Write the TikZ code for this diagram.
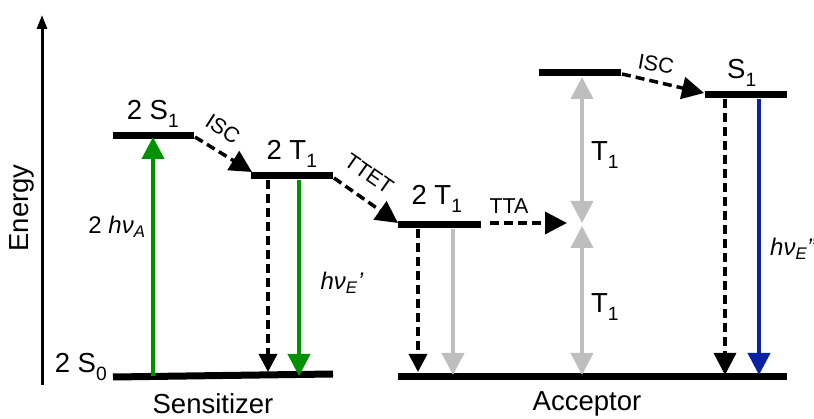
\documentclass[tikz,border=0pt]{standalone}
\usepackage{fontspec}
\setmainfont{Liberation Sans}
\usetikzlibrary{arrows.meta}
\definecolor{pgreen}{RGB}{0,145,0}
\definecolor{pblue}{RGB}{10,35,165}
\definecolor{pgray}{RGB}{190,190,190}
\newcommand{\hnu}{\textit{hν}}
\newcommand{\lsub}[1]{\raisebox{-0.1em}{\textsubscript{#1}}}
\begin{document}
\begin{tikzpicture}[x=1pt,y=-1pt,
  level/.style={line width=7pt},
  lab/.style={font=\fontsize{27.5}{30}\selectfont, inner sep=0pt},
  smalllab/.style={font=\fontsize{21.5}{24}\selectfont, inner sep=0pt},
  nulab/.style={font=\fontsize{24}{27}\selectfont, inner sep=0pt},
  solidarr/.style={line width=4pt,-{Triangle[width=22pt,length=22pt]}},
  grayarr/.style={pgray,line width=4pt,-{Triangle[width=22pt,length=22pt]}},
  graydbl/.style={pgray,line width=4pt,{Triangle[width=22pt,length=22pt]}-{Triangle[width=22pt,length=22pt]}},
  dasharr/.style={line width=3.5pt,dash pattern=on 9pt off 5pt,-{Triangle[width=18pt,length=18pt]}},
  dashdiag/.style={line width=3.5pt,dash pattern=on 9pt off 5pt,-{Triangle[width=22pt,length=22pt]}},
  axis/.style={line width=3pt,-{Triangle[width=10pt,length=14pt]}}
]
\useasboundingbox (0,0) rectangle (814,419);
% axis
\coordinate (ax0) at (42,385);
\coordinate (ax1) at (42,15);
\draw[axis] (ax0) -- (ax1);
\node[lab,rotate=90] (energy) at (22,208) {Energy};
% sensitizer levels
\coordinate (sS1a) at (113,136); \coordinate (sS1b) at (194,136);
\coordinate (sT1a) at (251,176); \coordinate (sT1b) at (333,176);
\coordinate (sS0a) at (113,377); \coordinate (sS0b) at (333,374);
\draw[level] (sS1a) -- (sS1b);
\draw[level] (sT1a) -- (sT1b);
\draw[level] (sS0a) -- (sS0b);
\node[lab] (lS1) at (153,114) {2 S\lsub{1}};
\node[lab] (lT1) at (292,154) {2 T\lsub{1}};
\node[lab] (lS0) at (81,367) {2 S\lsub{0}};
% sensitizer transitions
\coordinate (gu0) at (153,376); \coordinate (gu1) at (153,137);
\draw[solidarr,pgreen] (gu0) -- (gu1);
\node[nulab] (lA) at (117,227) {2 \hnu\textsubscript{\textit{A}}};
\coordinate (sd0) at (268,180); \coordinate (sd1) at (268,372);
\draw[dasharr] (sd0) -- (sd1);
\coordinate (gd0) at (299,180); \coordinate (gd1) at (299,376);
\draw[solidarr,pgreen] (gd0) -- (gd1);
\node[nulab] (lE1) at (342,283) {\hnu\textsubscript{\textit{E}}\textit{\char"27}};
\coordinate (isc1a) at (195,137); \coordinate (isc1b) at (252,172);
\draw[dashdiag] (isc1a) -- (isc1b);
\node[smalllab,rotate=-33] (lisc1) at (223,129) {ISC};
\coordinate (tteta) at (334,178); \coordinate (ttetb) at (398,223);
\draw[dashdiag] (tteta) -- (ttetb);
\node[smalllab,rotate=-35] (ltet) at (369,174) {TTET};
% acceptor levels
\coordinate (aT1a) at (398,225); \coordinate (aT1b) at (481,225);
\coordinate (aUa) at (539,73); \coordinate (aUb) at (621,73);
\coordinate (aS1a) at (705,95); \coordinate (aS1b) at (787,95);
\coordinate (aS0a) at (398,377); \coordinate (aS0b) at (787,377);
\draw[level] (aT1a) -- (aT1b);
\draw[level] (aUa) -- (aUb);
\draw[level] (aS1a) -- (aS1b);
\draw[level] (aS0a) -- (aS0b);
\node[lab] (laT1) at (437,199) {2 T\lsub{1}};
\node[lab] (laS1) at (742,73) {S\lsub{1}};
% acceptor transitions
\coordinate (ttaa) at (490,223); \coordinate (ttab) at (567,223);
\draw[dasharr,-{Triangle[width=22pt,length=22pt]}] (ttaa) -- (ttab);
\node[smalllab] (ltta) at (509,206) {TTA};
\coordinate (ad0) at (418,229); \coordinate (ad1) at (418,372);
\draw[dasharr] (ad0) -- (ad1);
\coordinate (ag0) at (453,229); \coordinate (ag1) at (453,375);
\draw[grayarr] (ag0) -- (ag1);
\coordinate (u0) at (582,77); \coordinate (u1) at (582,223);
\coordinate (u2) at (582,226); \coordinate (u3) at (582,375);
\draw[graydbl] (u0) -- (u1);
\draw[graydbl] (u2) -- (u3);
\node[lab] (lu1) at (605,155) {T\lsub{1}};
\node[lab] (lu2) at (605,307) {T\lsub{1}};
\coordinate (isc2a) at (622,74); \coordinate (isc2b) at (704,93);
\draw[dashdiag] (isc2a) -- (isc2b);
\node[smalllab,rotate=-10] (lisc2) at (656,64) {ISC};
\coordinate (fd0) at (725,99); \coordinate (fd1) at (725,375);
\draw[dasharr,-{Triangle[width=22pt,length=22pt]}] (fd0) -- (fd1);
\coordinate (bd0) at (759,99); \coordinate (bd1) at (759,375);
\draw[solidarr,pblue] (bd0) -- (bd1);
\node[nulab,anchor=west] (lE2) at (770,249) {\hnu\textsubscript{\textit{E}}\textit{\char"27\char"27}};
% bottom labels
\node[lab] (sens) at (213,404) {Sensitizer};
\node[lab] (acc) at (587,404) {Acceptor};
\end{tikzpicture}
\end{document}
